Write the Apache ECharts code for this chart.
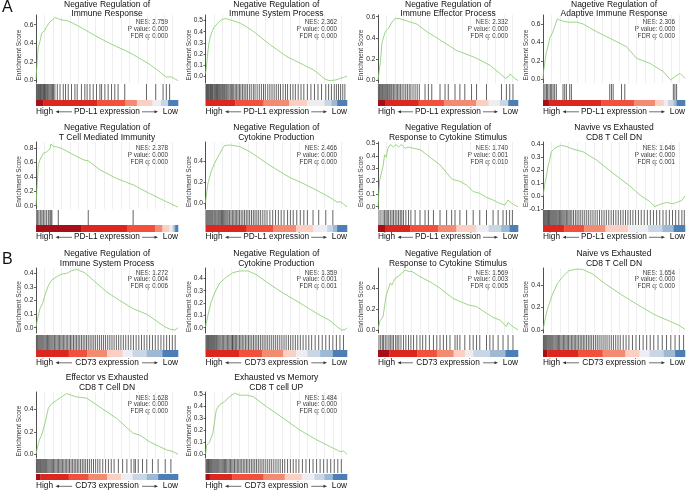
<!DOCTYPE html>
<html><head><meta charset="utf-8">
<script src="https://cdn.jsdelivr.net/npm/echarts@6/dist/echarts.min.js"></script>
<style>html,body{margin:0;padding:0;background:#fff}#c{width:686px;height:491px}</style>
</head><body><div id="c"></div>
<script>
// ---------------- DATA ----------------
const titles = [
 'Negative Regulation of\nImmune Response',
 'Negative Regulation of\nImmune System Process',
 'Negative Regulation of\nImmune Effector Process',
 'Nagetive Regulation of\nAdaptive Immune Response',
 'Negative Regulation of\nT Cell Mediated Immunity',
 'Negative Regulation of\nCytokine Production',
 'Negative Regulation of\nResponse to Cytokine Stimulus',
 'Navive vs Exhausted\nCD8 T Cell DN',
 'Negative Regulation of\nImmune System Process',
 'Negative Regulation of\nCytokine Production',
 'Negative Regulation of\nResponse to Cytokine Stimulus',
 'Naive vs Exhausted\nCD8 T Cell DN',
 'Effector vs Exhausted\nCD8 T Cell DN',
 'Exhausted vs Memory\nCD8 T cell UP'
];
const nesValues = ['2.759','2.362','2.332','2.306','2.378','2.466','1.740','1.646','1.272','1.359','1.569','1.654','1.628','1.484'];
const pValues   = ['0.000','0.000','0.000','0.000','0.000','0.000','0.001','0.000','0.004','0.001','0.003','0.000','0.000','0.000'];
const fdrValues = ['0.000','0.000','0.000','0.000','0.000','0.000','0.010','0.001','0.006','0.001','0.005','0.000','0.000','0.000'];
const markerGenes = ['PD-L1','PD-L1','PD-L1','PD-L1','PD-L1','PD-L1','PD-L1','PD-L1','CD73','CD73','CD73','CD73','CD73','CD73'];
const panelLetters = ['A','B'];

const yTicks1 = [0,0.2,0.4,0.6];
const yTicks2 = [0,0.1,0.2,0.3,0.4,0.5];
const yTicks3 = [0,0.2,0.4,0.6];
const yTicks4 = [0,0.2,0.4,0.6];
const yTicks5 = [0,0.2,0.4,0.6,0.8];
const yTicks6 = [0,0.2,0.4];
const yTicks7 = [0,0.1,0.2,0.3,0.4,0.5];
const yTicks8 = [-0.1,0,0.1,0.2,0.3,0.4];
const yTicks9 = [0,0.1,0.2,0.3,0.4];
const yTicks10 = [0,0.1,0.2,0.3,0.4];
const yTicks11 = [0,0.2,0.4,0.6];
const yTicks12 = [0,0.2,0.4];
const yTicks13 = [0,0.2,0.4];
const yTicks14 = [0,0.1,0.2,0.3,0.4,0.5];
const yLimits = [[-0.025,0.704],[-0.063,0.551],[-0.028,0.616],[-0.04,0.697],[-0.046,0.888],[-0.06,0.584],[-0.018,0.51],[-0.1,0.415],[-0.039,0.44],[-0.043,0.484],[-0.029,0.593],[-0.027,0.551],[-0.033,0.554],[-0.03,0.516]];

// running enrichment score curves [rank %, ES]
const es1 = [[0,0.02],[0.8,0.2],[1.6,0.36],[2.8,0.42],[4,0.51],[5,0.52],[6.3,0.54],[7.5,0.58],[8.5,0.6],[9.8,0.63],[11.5,0.65],[13.3,0.675],[15,0.67],[16.9,0.655],[19,0.65],[21.5,0.645],[24,0.63],[26.2,0.615],[30,0.585],[33.3,0.555],[38,0.515],[42,0.48],[45,0.455],[50,0.415],[56.7,0.365],[62,0.33],[68.4,0.28],[74,0.23],[80,0.175],[85,0.12],[89.5,0.065],[91.8,0.04],[95.3,0.04],[97.7,0.02],[100,0.0]];
const es2 = [[0,0.02],[0.7,0.084],[1.5,0.2],[2.4,0.295],[3.5,0.36],[4.7,0.4],[6,0.44],[8.2,0.47],[10,0.495],[11.8,0.51],[14.1,0.52],[17.6,0.506],[20.5,0.495],[24.7,0.476],[29,0.445],[34.1,0.4],[40,0.34],[45.9,0.28],[52,0.225],[57.6,0.175],[63,0.14],[69.4,0.1],[76.5,0.054],[80,0.02],[83.5,-0.02],[85,-0.03],[87,-0.04],[89,-0.04],[91.8,-0.036],[93.5,-0.03],[95.3,-0.02],[97.6,-0.012],[98.8,-0.008],[100,0]];
const es3 = [[0,0],[1.7,0.17],[2.8,0.35],[4,0.36],[5.2,0.46],[7.6,0.49],[10,0.55],[12.3,0.585],[15.9,0.58],[20.6,0.56],[27.7,0.53],[34.8,0.46],[44.3,0.38],[56.2,0.28],[68,0.22],[72.7,0.19],[79.9,0.14],[87,0.063],[91,0.016],[92.9,0.03],[94.5,0.057],[96.4,0.03],[100,-0.006]];
const es4 = [[0,0],[0.5,0.1],[2.4,0.3],[3.5,0.354],[4.7,0.445],[6.6,0.5],[8.2,0.57],[10.1,0.654],[11.8,0.643],[15.3,0.625],[18.8,0.618],[23.5,0.62],[28.2,0.6],[37.6,0.517],[47.1,0.445],[58.8,0.354],[65.9,0.228],[75.3,0.173],[84.7,0.083],[89.9,-0.007],[92.9,0.03],[96.5,0.065],[100,0.01]];
const es5 = [[0,0],[0.9,0.31],[1.6,0.57],[2.8,0.64],[4,0.66],[5.2,0.73],[6.3,0.71],[7.5,0.75],[8.7,0.77],[9.8,0.79],[10.5,0.86],[12.2,0.83],[14.5,0.82],[18,0.8],[25,0.725],[33.3,0.64],[36.8,0.625],[45,0.5],[56.7,0.38],[68.4,0.29],[80,0.17],[91.8,0.056],[100,-0.02]];
const es6 = [[0,0],[1.7,0.186],[4,0.3],[6.4,0.38],[8,0.42],[10,0.47],[12,0.52],[13.5,0.55],[17,0.555],[20,0.55],[24.2,0.54],[31.3,0.49],[37,0.44],[43.1,0.38],[49,0.33],[54.9,0.28],[60,0.24],[66.8,0.2],[72,0.165],[78.6,0.12],[84,0.08],[88.1,0.05],[92.9,0.006],[95.3,0.01],[97.6,-0.013],[100,-0.04]];
const es7 = [[0,0],[1.2,0.21],[2.4,0.2],[3.6,0.32],[4.7,0.41],[5.9,0.39],[7.1,0.46],[8.8,0.49],[11.1,0.47],[12.8,0.49],[14.7,0.47],[16.6,0.49],[19.4,0.46],[21.8,0.47],[25.4,0.46],[30.1,0.45],[37.2,0.39],[44.3,0.33],[52.6,0.22],[55,0.21],[58.5,0.2],[63.3,0.17],[68,0.12],[72.7,0.105],[77.5,0.074],[82.2,0.053],[87,0.026],[90.5,0.013],[92.9,0.053],[95.3,0.03],[97.6,0.013],[100,0]];
const es8 = [[0,0],[1.2,0.085],[2.4,0.15],[3.5,0.226],[4.7,0.277],[5.9,0.34],[8.2,0.367],[10.6,0.38],[12.9,0.39],[16.5,0.38],[21.2,0.36],[28.2,0.34],[37.6,0.277],[49.4,0.174],[61.2,0.077],[68.2,0.008],[75.3,-0.044],[78.8,-0.082],[82.4,-0.064],[87.1,-0.05],[91.8,-0.06],[95.3,-0.044],[97.6,-0.036],[100,0]];
const es9 = [[0,0.007],[1.2,0.07],[2.8,0.14],[4.7,0.18],[6.3,0.24],[8.7,0.31],[11,0.35],[14.5,0.375],[18,0.395],[21.5,0.4],[25,0.42],[28.6,0.43],[30.9,0.42],[34.4,0.405],[40.3,0.35],[49.6,0.265],[59,0.2],[68.4,0.14],[77.8,0.1],[84.8,0.05],[90.6,0.007],[94.1,-0.01],[97.7,-0.017],[100,0]];
const es10 = [[0,0.008],[1.7,0.1],[4,0.21],[6.4,0.28],[9.9,0.36],[14.7,0.41],[19.4,0.446],[24.2,0.46],[30.1,0.46],[36,0.43],[43.1,0.37],[54.9,0.28],[66.8,0.2],[78.6,0.116],[88.1,0.057],[92.9,0.008],[96.4,-0.02],[98.8,-0.014],[100,0]];
const es11 = [[0,0],[1.2,0.08],[2.4,0.064],[3.6,0.128],[4.7,0.11],[5.9,0.335],[7.1,0.32],[8.8,0.45],[9.9,0.43],[12.3,0.495],[13.5,0.48],[15.9,0.527],[17.1,0.51],[19.4,0.575],[21.8,0.56],[24.2,0.56],[30.1,0.51],[37.2,0.46],[44.3,0.4],[53.8,0.3],[64.5,0.24],[70.4,0.223],[77.5,0.16],[82.2,0.12],[87,0.096],[91.7,0.032],[92.9,0.07],[96.4,0.032],[100,0]];
const es12 = [[0,0],[1.4,0.09],[3,0.18],[6.5,0.31],[10,0.41],[13.6,0.47],[18.2,0.527],[22.9,0.54],[27.6,0.54],[34.6,0.5],[43.9,0.41],[55.6,0.31],[67.3,0.22],[79,0.133],[88.3,0.083],[95.3,0.044],[100,0.006]];
const es13 = [[0,0],[0.9,0.053],[2.3,0.127],[4,0.17],[6.3,0.275],[8.7,0.41],[11,0.45],[14.5,0.48],[18,0.51],[21.5,0.54],[23.9,0.53],[28.6,0.51],[35.6,0.5],[45,0.42],[56.7,0.32],[68.4,0.187],[73.1,0.17],[80.1,0.11],[87.1,0.068],[91.8,0.04],[96.5,0.024],[100,0]];
const es14 = [[0,0],[0.9,0.077],[2.8,0.1],[5.2,0.174],[7.6,0.367],[9.9,0.41],[13.5,0.436],[17.1,0.478],[20.6,0.506],[24.2,0.49],[28.9,0.49],[33.6,0.478],[43.1,0.395],[54.9,0.3],[66.8,0.2],[78.6,0.12],[88.1,0.064],[95.3,0.022],[97.6,0.028],[100,0]];

// gene-set hit positions (rank %)
const hits1 = [0.3,0.9,1.5,2,2.6,3.1,3.7,4.3,4.9,5.4,6,6.6,7.2,7.9,8.5,9.2,10,10.8,11.6,12.3,13.3,15,16.9,19.2,20.8,22.7,25,27.4,29,32,34.4,36,38,40.3,42.6,45,46.2,48.5,50.8,53.2,55.5,57.8,62.5,77.8,84.3,89.5,91.8,94.1];
const hits2 = [0.3,0.8,1.4,2,2.5,3.1,3.6,4.2,4.8,5.3,6,6.6,7.2,7.8,8.5,9.1,9.8,10.5,11.2,12,12.8,13.5,14.3,15,15.8,16.6,17.5,18.3,19.2,20,21,22,23,24,25,26.2,27.3,28.5,29.6,31,32.3,33.8,35,36.5,38,39.5,41,42.3,44,45.5,47,48.5,50,51.5,53,54.8,56.5,58,60,61.8,63.5,65.5,67.5,69.5,72,74.5,77,79.5,82,85,87,89,91,92.5,94,95.5,97,98.5];
const hits3 = [0.3,1,1.6,2.3,3,3.6,4.3,5,5.7,6.4,7,7.8,8.5,9.3,10,11,12,13,14,15,16,17.2,18.5,19.8,21,22.3,23.5,25,26.5,28,29.5,33.6,36,38.4,44.3,47.9,50.2,55,58.5,62,66.8,70.4,77.5,88.2,91.7,94.1,96.4];
const hits4 = [0.5,1.4,2.4,3.1,4.2,5.2,6.1,7.1,8.2,9.4,14.1,15.3,16.5,18.8,20,47,48.2,49.4,55.3,57.6,91.8,92.9,94.1];
const hits5 = [0.5,1.2,2.1,3.3,4.2,5.2,6.3,7.5,8.7,9.8,10.5,11.2,15.7,36.8,68.4];
const hits6 = [0.3,1,1.7,2.4,3.1,3.8,4.5,5.2,6,6.7,7.4,8.2,9,9.7,10.5,11.3,12,12.8,13.6,14.4,15.2,16,17,18,19,20,21,22,23,24,25.2,26.4,27.6,28.8,30,31.2,32.5,33.8,35,36.3,37.6,39,40.5,42,43.5,45.5,47.5,49.5,51.5,53.5,55.5,58,60,62,64.5,67,69.5,72,76,80,85,90];
const hits7 = [0.7,2.1,3.6,4.7,5.7,6.6,7.6,8.8,10,11.1,12.3,13.5,14.7,15.9,17,18.2,19.9,21.8,23.5,26.5,30,33.6,36,39.6,44.3,49,52.6,55,58.5,63.3,68,72.7,77.5,82.2,85.8,89.3,91.7,94,96];
const hits8 = [0.3,0.9,1.5,2.1,2.7,3.3,3.9,4.5,5.1,5.8,6.5,7.2,7.9,8.6,9.3,10,10.8,11.6,12.4,13.2,14,14.8,15.6,16.5,17.4,18.3,19.2,20.3,21.5,22.8,24,25.3,26.6,28,29.4,30.8,32.2,33.7,35.2,36.7,38.2,39.8,41.4,43,44.6,46.3,48,49.6,51.3,53,54.7,56.4,58.1,59.8,61.5,63.3,65.2,67.2,69.2,71.3,73.5,75.6,77.8,80,82.2,84.5,86.7,89,91.2,93.4,95.6,97.8,99.5];
const hits9 = [0.3,0.9,1.5,2.2,2.9,3.6,4.3,5,5.7,6.5,7.3,8.1,8.9,9.7,10.5,11.3,12.1,13,13.9,14.8,15.7,16.6,17.5,18.4,19.3,20.3,21.3,22.3,23.3,24.3,25.3,26.4,27.5,28.6,29.7,30.8,32,33.2,34.4,35.6,36.8,38.1,39.4,40.7,42,43.4,44.8,46.2,47.6,49,50.5,52,53.5,55,56.6,58.2,59.8,61.5,63.2,65,66.8,68.6,70.5,72.4,74.3,76.2,78.1,80,82,84,86,88,90,92,94,96,98];
const hits10 = [0.3,0.9,1.5,2.1,2.8,3.5,4.2,4.9,5.6,6.3,7,7.8,8.6,9.4,10.2,11,11.9,12.8,13.7,14.6,15.5,16.4,17.3,18.2,19,19.4,20.2,21.1,22,23,24,25,26,27.1,28.2,29.3,30.4,31.5,32.7,33.9,35.1,36.3,37.5,38.8,40.1,41.4,42.7,44,45.4,46.8,48.2,49.6,51,52.5,54,55.5,57,58.6,60.2,61.8,63.5,65.2,67,69,71,73,75,77.5,80,82.5,85,87.5,90,92.5,95,97.5];
const hits11 = [0.7,1.9,3.1,4,5.2,6.4,7.8,8.8,10,11.1,12.6,13.7,14.9,16.4,18.2,19.9,21.8,23.5,25.4,27.7,30,31.9,34.1,36.7,39.6,42,44.3,46.7,49,51.4,55,56.6,58.5,62,65.6,68,70.4,72.7,77.5,79.9,82.2,85.8,89.3,92.9,96.4];
const hits12 = [0.3,0.9,1.5,2.1,2.7,3.4,4.1,4.8,5.5,6.2,6.9,7.7,8.5,9.3,10.1,10.9,11.7,12.6,13.5,14.4,15.3,16.2,17.1,18,19,20,21,22,23,24,25.1,26.2,27.3,28.4,29.5,30.7,31.9,33.1,34.3,35.6,36.9,38.2,39.5,40.9,42.3,43.7,45.1,46.6,48.1,49.6,51.2,52.8,54.4,56.5,58.5,60.5,63,65.5,68,70.5,73,75.5,78,81,84,87,90,93,96,99];
const hits13 = [0.3,0.9,1.5,2.1,2.7,3.3,4,4.7,5.4,6.1,6.8,7.5,8.3,9.1,9.9,10.7,11.5,12.3,13.2,14.1,15,15.9,16.8,17.7,18.6,19.6,20.6,21.6,22.6,23.6,24.7,25.8,26.9,28,29.1,30.2,31.4,32.6,33.8,35,36.3,37.6,39,40.5,42,43.5,45,47,49,51,53,55,58,61,64,67,69,70,72,75,78,82,86,91,95];
const hits14 = [0.3,0.9,1.5,2.1,2.7,3.3,3.9,4.5,5.2,5.9,6.6,7.3,8,8.7,9.4,10.2,11,11.8,12.6,13.4,14.2,15,15.9,16.8,17.7,18.6,19.5,20.5,21.5,22.5,23.5,24.5,25.6,26.7,27.8,28.9,30,31.2,32.4,33.6,34.8,36,37.3,38.6,39.9,41.2,42.6,44,45.4,46.8,48.3,49.8,51.3,52.8,54.4,56,58,60,62,64,66,68.5,71,73.5,76,78.5,81,83.5,86,88.5,91,93.5,96];

// ranked-list colour bar: rank % where each of 9 expression levels ends (high -> low)
const cbBreaks1 = [5,43,63,71,82,88,93,93,100];
const cbBreaks2 = [0,21,41,59,72,84,89,93,100];
const cbBreaks3 = [5,29,47,70,79,87,93,93,100];
const cbBreaks4 = [4,41,64,79,85,88,92,94,100];
const cbBreaks5 = [32,64,84,89,94,96,97,98,100];
const cbBreaks6 = [0,29,48,64,76,86,90,93,100];
const cbBreaks7 = [5,23,43,56,70,79,88,94,100];
const cbBreaks8 = [0,15,29,44,60,74,84,92,100];
const cbBreaks9 = [0,23,36,50,61,68,78,89,100];
const cbBreaks10 = [0,24,40,55,64,72,81,90,100];
const cbBreaks11 = [8,28,42,54,62,68,80,91,100];
const cbBreaks12 = [3,25,42,58,68,75,85,93,100];
const cbBreaks13 = [3,23,37,50,60,68,78,86,100];
const cbBreaks14 = [3,19,41,56,68,77,84,90,100];

const esCurves = [es1,es2,es3,es4,es5,es6,es7,es8,es9,es10,es11,es12,es13,es14];
const hitSets = [hits1,hits2,hits3,hits4,hits5,hits6,hits7,hits8,hits9,hits10,hits11,hits12,hits13,hits14];
const cbSets = [cbBreaks1,cbBreaks2,cbBreaks3,cbBreaks4,cbBreaks5,cbBreaks6,cbBreaks7,cbBreaks8,cbBreaks9,cbBreaks10,cbBreaks11,cbBreaks12,cbBreaks13,cbBreaks14];
const yTickSets = [yTicks1,yTicks2,yTicks3,yTicks4,yTicks5,yTicks6,yTicks7,yTicks8,yTicks9,yTicks10,yTicks11,yTicks12,yTicks13,yTicks14];

// ---------------- LAYOUT / STYLE ----------------
const FONT = '"Liberation Sans", Arial, Helvetica, sans-serif';
const levelColors = ['#a50f15','#dc2620','#f0503c','#f58a73','#fbcfc1','#eeeef2','#c9d7e5','#9db9d3','#4d7fb7'];
const colsX = [[36,178],[205.5,347],[378,518],[543,685]];
const rowsY = [
 {t1:4.2, t2:13.7, esT:15, esB:83, hT:84, hB:100, cT:100, cB:106, lab:111.5, st:22.7},
 {t1:128, t2:138, esT:142, esB:209, hT:210, hB:225, cT:225, cB:232, lab:237, st:148.5},
 {t1:254, t2:263.5, esT:268, esB:333, hT:335, hB:350, cT:350, cB:357, lab:362.5, st:273},
 {t1:378, t2:388, esT:392, esB:458, hT:459, hB:473, cT:474, cB:480, lab:486, st:398}
];
const panelPos = [[0,0],[0,1],[0,2],[0,3],[1,0],[1,1],[1,2],[1,3],[2,0],[2,1],[2,2],[2,3],[3,0],[3,1]];
const letterPos = [[2,7.5],[2,260]];

const grids=[], xAxes=[], yAxes=[], series=[], graphics=[];
function txt(x,y,text,size,align,extra){
  return {type:'text', x, y, silent:true, style:Object.assign({text, fontSize:size, fontFamily:FONT, fill:'#111',
    align:align, verticalAlign:'middle', textAlign:align, textVerticalAlign:'middle'}, extra||{})};
}
panelPos.forEach(([r,c],i)=>{
  const R = rowsY[r], [L,Rx] = colsX[c], W = Rx-L, C=(L+Rx)/2;
  const g0 = grids.length;
  grids.push({left:L, top:R.esT, width:W, height:R.esB-R.esT});
  grids.push({left:L, top:R.hT, width:W, height:R.hB-R.hT});
  grids.push({left:L, top:R.cT, width:W, height:R.cB-R.cT});
  xAxes.push({gridIndex:g0, type:'value', min:0, max:100, interval:6,
    axisLine:{show:false}, axisTick:{show:false}, axisLabel:{show:false},
    splitLine:{show:true, showMinLine:false, showMaxLine:false, lineStyle:{color:'#e3e3e3', width:0.6}}});
  const ticks = yTickSets[i];
  yAxes.push({gridIndex:g0, type:'value', min:yLimits[i][0], max:yLimits[i][1],
    axisLine:{show:true, lineStyle:{color:'#222', width:0.8}},
    axisTick:{show:true, length:2, customValues:ticks, lineStyle:{color:'#222', width:0.7}},
    axisLabel:{show:true, customValues:ticks, fontSize:6.6, fontFamily:FONT, color:'#222', margin:2.5,
      formatter:v=>Number(v).toFixed(1)},
    splitLine:{show:false}});
  for (let k=1;k<=2;k++){
    xAxes.push({gridIndex:g0+k, type:'value', min:0, max:100, show:false});
    yAxes.push({gridIndex:g0+k, type:'value', min:0, max:1, show:false});
  }
  series.push({type:'line', xAxisIndex:g0, yAxisIndex:g0, data:esCurves[i], showSymbol:false, symbol:'none',
    lineStyle:{color:'#82cc66', width:0.8}, silent:true, animation:false});
  series.push({type:'custom', coordinateSystem:'cartesian2d', xAxisIndex:g0+1, yAxisIndex:g0+1,
    data:hitSets[i].map(v=>[v,0]), silent:true, animation:false,
    renderItem:(p,api)=>{const a=api.coord([api.value(0),0]), b=api.coord([api.value(0),1]);
      return {type:'line', shape:{x1:a[0],y1:a[1],x2:b[0],y2:b[1]}, style:{stroke:'#000', lineWidth:0.9, opacity:0.68}};}});
  const br = cbSets[i], segs=[]; let prev=0;
  br.forEach((e,lv)=>{ if(e>prev) segs.push([prev,e,lv]); prev=Math.max(prev,e); });
  series.push({type:'custom', coordinateSystem:'cartesian2d', xAxisIndex:g0+2, yAxisIndex:g0+2,
    data:segs, silent:true, animation:false,
    renderItem:(p,api)=>{const a=api.coord([api.value(0),0]), b=api.coord([api.value(1),1]);
      return {type:'rect', shape:{x:a[0], y:b[1], width:b[0]-a[0]+0.3, height:a[1]-b[1]}, style:{fill:levelColors[api.value(2)]}};}});
  // texts
  const tl = titles[i].split('\n');
  graphics.push(txt(C, R.t1, tl[0], 8.5, 'center'));
  graphics.push(txt(C, R.t2, tl[1], 8.5, 'center'));
  const sx = Rx-10;
  graphics.push(txt(sx, R.st, 'NES: '+nesValues[i], 6.3, 'right', {fill:'#333'}));
  graphics.push(txt(sx, R.st+6.7, 'P value: '+pValues[i], 6.3, 'right', {fill:'#333'}));
  graphics.push(txt(sx, R.st+13.4, 'FDR q: '+fdrValues[i], 6.3, 'right', {fill:'#333'}));
  const ex = L-16.5, ey = (R.esT+R.esB)/2+6;
  graphics.push({type:'text', x:ex, y:ey, rotation:Math.PI/2, silent:true,
    style:{text:'Enrichment Score', fontSize:6.4, fontFamily:FONT, fill:'#333', align:'center', verticalAlign:'middle', textAlign:'center', textVerticalAlign:'middle'}});
  const ly = R.lab;
  graphics.push(txt(L, ly, 'High', 8.3, 'left'));
  graphics.push(txt(Rx, ly, 'Low', 8.3, 'right'));
  graphics.push(txt(C, ly, markerGenes[i]+' expression', 8.3, 'center'));
  const ay = ly+0.3, hl = L+19.5, hr = Rx-20;
  graphics.push({type:'line', silent:true, shape:{x1:hl+2, y1:ay, x2:C-35, y2:ay}, style:{stroke:'#333', lineWidth:0.7}});
  graphics.push({type:'polygon', silent:true, shape:{points:[[hl,ay],[hl+3.5,ay-1.5],[hl+3.5,ay+1.5]]}, style:{fill:'#333'}});
  graphics.push({type:'line', silent:true, shape:{x1:C+35, y1:ay, x2:hr-2, y2:ay}, style:{stroke:'#333', lineWidth:0.7}});
  graphics.push({type:'polygon', silent:true, shape:{points:[[hr,ay],[hr-3.5,ay-1.5],[hr-3.5,ay+1.5]]}, style:{fill:'#333'}});
});
panelLetters.forEach((t,k)=>graphics.push(txt(letterPos[k][0], letterPos[k][1], t, 16, 'left', {fill:'#111'})));

const chart = echarts.init(document.getElementById('c'), null, {renderer:'canvas'});
chart.setOption({animation:false, backgroundColor:'#fff', grid:grids, xAxis:xAxes, yAxis:yAxes, series, graphic:{elements:graphics}});
</script></body></html>
